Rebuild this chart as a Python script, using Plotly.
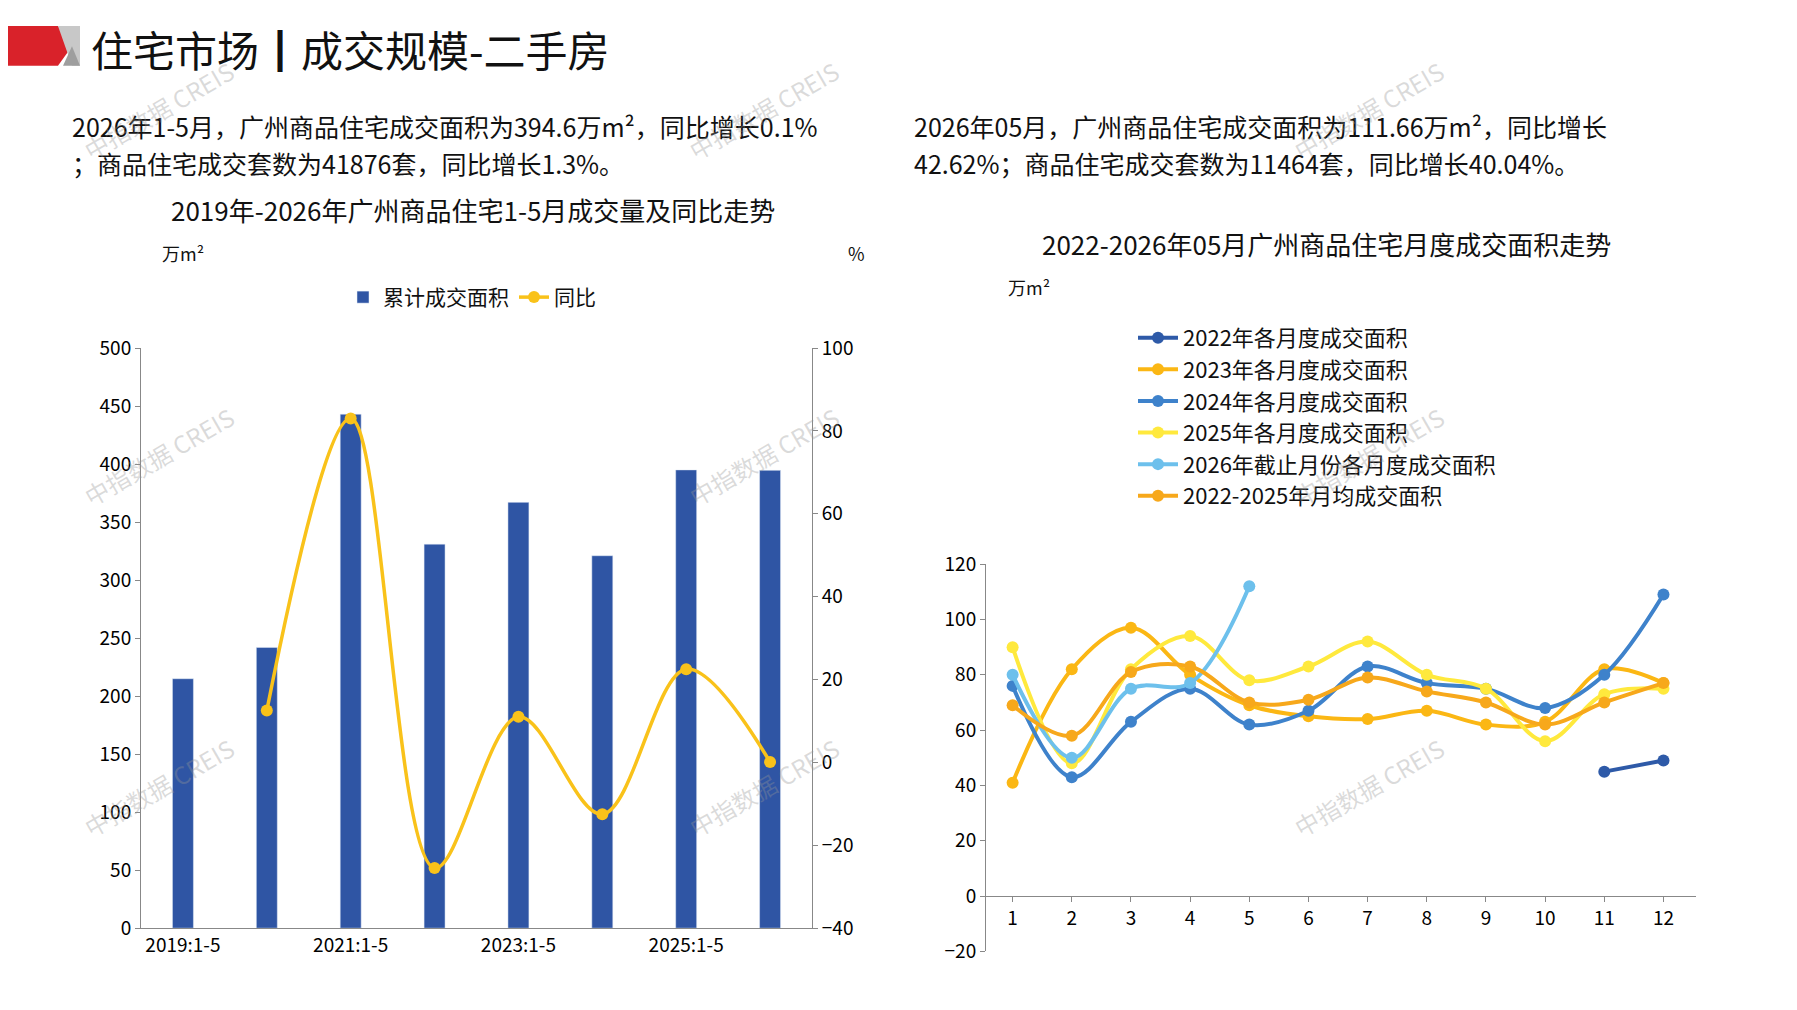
import plotly.graph_objects as go

W, H = 1797, 1010
def px(x): return x / W
def py(y): return 1 - y / H

years = ["2019:1-5", "2020:1-5", "2021:1-5", "2022:1-5", "2023:1-5", "2024:1-5", "2025:1-5", "2026:1-5"]
area = [215, 242, 443, 331, 367, 321, 395, 394.6]
yoy = [None, 12.5, 83, -25.5, 11, -12.5, 22.5, 0.1]

months = list(range(1, 13))
s2022 = [None]*10 + [45, 49]
s2023 = [41, 82, 97, 80, 69, 65, 64, 67, 62, 63, 82, 77]
s2024 = [76, 43, 63, 75, 62, 67, 83, 77, 75, 68, 80, 109]
s2025 = [90, 48, 82, 94, 78, 83, 92, 80, 75, 56, 73, 75]
s2026 = [80, 50, 75, 77, 112]
savg = [69, 58, 81, 83, 70, 71, 79, 74, 70, 62, 70, 77]

FONT = "Noto Sans CJK SC"
fig = go.Figure()
fig.add_trace(go.Bar(x=years, y=area, name="累计成交面积", marker_color="#2F55A4", width=0.25,
                     xaxis="x", yaxis="y", legend="legend"))
fig.add_trace(go.Scatter(x=years, y=yoy, name="同比", mode="lines+markers", line=dict(color="#F9C21A", width=3.5, shape="spline"),
                         marker=dict(size=12), xaxis="x", yaxis="y2", legend="legend"))

right = [
    ("2022年各月度成交面积", s2022, "#2E5AA8"),
    ("2023年各月度成交面积", s2023, "#FBB714"),
    ("2024年各月度成交面积", s2024, "#3E82CB"),
    ("2025年各月度成交面积", s2025, "#FFE93D"),
    ("2026年截止月份各月度成交面积", s2026, "#6DC0EC"),
    ("2022-2025年月均成交面积", savg, "#F7A81B"),
]
for name, vals, c in right:
    fig.add_trace(go.Scatter(x=months[:len(vals)], y=vals, name=name, mode="lines+markers",
                             line=dict(color=c, width=4, shape="spline"), marker=dict(size=12),
                             xaxis="x2", yaxis="y3", legend="legend2", connectgaps=False))

ax = dict(showgrid=False, zeroline=False, showline=True, linecolor="#888", ticks="outside", tickcolor="#888",
          tickfont=dict(family=FONT, size=19, color="#000"))
ytop, ybot = py(954), py(556)
fig.update_layout(
    width=W, height=H, margin=dict(l=0, r=0, t=0, b=0), plot_bgcolor="white", paper_bgcolor="white",
    font=dict(family=FONT, color="#111"),
    xaxis=dict(ax, domain=[px(133), px(804)], anchor="y", tickvals=[years[0], years[2], years[4], years[6]],
               ticktext=["2019:1-5", "2021:1-5", "2023:1-5", "2025:1-5"], ticks=""),
    yaxis=dict(ax, domain=[py(930), py(334)], range=[0, 500], dtick=50, anchor="x"),
    yaxis2=dict(ax, overlaying="y", side="right", range=[-40, 100], dtick=20, anchor="x"),
    xaxis2=dict(ax, domain=[px(978), px(1688)], anchor="free", position=ytop + (ybot - ytop) * 20 / 140,
                range=[0.55, 12.55], tickvals=months),
    yaxis3=dict(ax, domain=[ytop, ybot], range=[-20, 120], dtick=20, anchor="x2", ticks="outside"),
    legend=dict(orientation="h", x=px(464), xanchor="center", y=py(282), yanchor="middle",
                font=dict(family=FONT, size=21), bgcolor="rgba(0,0,0,0)"),
    legend2=dict(x=px(1125), y=py(302), yanchor="top", font=dict(family=FONT, size=22), tracegroupgap=0,
                 itemwidth=40, bgcolor="rgba(0,0,0,0)"),
    showlegend=True,
)

shapes = [
    ("M 0 3 L 50 3 L 64 24 L 50 44 L 0 44 Z", "#D9222A"),
    ("M 50 3 L 72 3 L 72 44 L 64 44 Z", "#C8C8C8"),
    ("M 55 44 L 64 24 L 72 44 Z", "#9E9E9E"),
]
for path, col in shapes:
    parts = path.split()
    out = []
    i = 0
    while i < len(parts):
        t = parts[i]
        if t in ("M", "L"):
            out += [t, f"{px(float(parts[i+1])):.5f}", f"{py(float(parts[i+2])):.5f}"]
            i += 3
        else:
            out.append(t); i += 1
    fig.add_shape(type="path", path=" ".join(out), xref="paper", yref="paper", line=dict(width=0), fillcolor=col)

def ann(x, y, text, size, xanchor="left", color="#111", **kw):
    fig.add_annotation(x=px(x), y=py(y), xref="paper", yref="paper", text=text, showarrow=False,
                       xanchor=xanchor, yanchor="middle", font=dict(family=FONT, size=size, color=color), **kw)

ann(81, 26, "住宅市场┃成交规模-二手房", 42)
ann(62, 106, "2026年1-5月，广州商品住宅成交面积为394.6万m²，同比增长0.1%", 25)
ann(62, 144, "；商品住宅成交套数为41876套，同比增长1.3%。", 25)
ann(904, 106, "2026年05月，广州商品住宅成交面积为111.66万m²，同比增长", 25)
ann(904, 144, "42.62%；商品住宅成交套数为11464套，同比增长40.04%。", 25)
ann(465, 192, "2019年-2026年广州商品住宅1-5月成交量及同比走势", 26, xanchor="center")
ann(152, 236, "万m²", 18)
ann(838, 236, "%", 18)
ann(1318, 227, "2022-2026年05月广州商品住宅月度成交面积走势", 26, xanchor="center")
ann(998, 271, "万m²", 18)

for (x, y) in [(150, 90), (755, 90), (1360, 90), (150, 445), (755, 445), (1360, 445), (150, 785), (755, 785), (1360, 785)]:
    ann(x, y, "中指数据 CREIS", 24, xanchor="center", color="rgba(150,150,150,0.35)", textangle=-30)

fig.write_html("out.html")
